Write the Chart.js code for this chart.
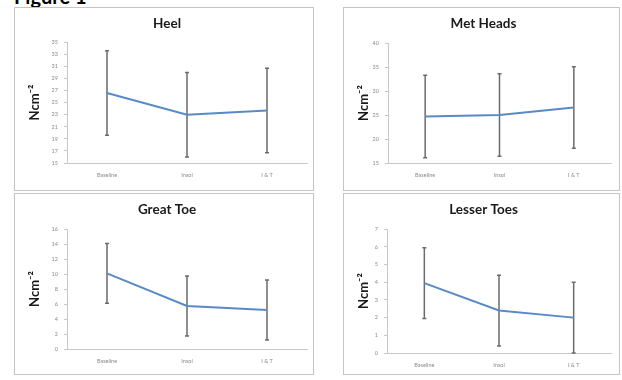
<!DOCTYPE html>
<html>
<head>
<meta charset="utf-8">
<script src="https://cdn.jsdelivr.net/npm/chart.js@4.4.0/dist/chart.umd.min.js"></script>
<style>
  body { margin: 0; background: #fff; width: 622px; height: 380px; overflow: hidden; position: relative; }
  .fig { position: absolute; left: 14px; top: -14px; font: bold 20px/20px Lato, sans-serif; color: #000; }
  .panel { position: absolute; border: 1px solid #c4c4c4; }
  .panel canvas { position: absolute; left: 0; top: 0; }
</style>
</head>
<body>
<div class="fig">Figure 1</div>
<div class="panel" style="left:14px;top:7px;width:298px;height:182px"><canvas id="heel" width="298" height="182"></canvas></div>
<div class="panel" style="left:343px;top:7px;width:275px;height:182px"><canvas id="met" width="275" height="182"></canvas></div>
<div class="panel" style="left:14px;top:193px;width:298px;height:180px"><canvas id="great" width="298" height="180"></canvas></div>
<div class="panel" style="left:343px;top:193px;width:275px;height:180px"><canvas id="lesser" width="275" height="180"></canvas></div>
<script>
const categories = ["Baseline", "Insol", "I & T"];

const heelMean = [26.6, 23.0, 23.7];
const heelSd = [7.0, 7.0, 7.0];

const metMean = [24.7, 25.0, 26.6];
const metSd = [8.6, 8.6, 8.5];

const greatMean = [10.1, 5.75, 5.2];
const greatSd = [4.0, 4.0, 4.0];

const lesserMean = [3.95, 2.4, 2.0];
const lesserSd = [2.0, 2.0, 2.0];

const yLabel = "Ncm\u207B\u00B2";

// error bars drawn under the line, using the chart's own scales
const errorBars = {
  id: "errorBars",
  beforeDatasetsDraw(chart, args, opts) {
    const ctx = chart.ctx;
    const xs = chart.scales.x;
    const ys = chart.scales.y;
    const ds = chart.data.datasets[0];
    ctx.save();
    ctx.strokeStyle = "#6b6b6b";
    ctx.lineWidth = 1.5;
    ds.data.forEach((v, i) => {
      const x = xs.getPixelForValue(i);
      const top = ys.getPixelForValue(v + opts.sd[i]);
      const bot = ys.getPixelForValue(v - opts.sd[i]);
      ctx.beginPath();
      ctx.moveTo(x, top);
      ctx.lineTo(x, bot);
      ctx.moveTo(x - 2, top);
      ctx.lineTo(x + 2, top);
      ctx.moveTo(x - 2, bot);
      ctx.lineTo(x + 2, bot);
      ctx.stroke();
    });
    ctx.restore();
  }
};

function drawChart(id, title, means, sd, min, max, step, yWidth, xHeight, rightPad, titleGap) {
  const ctx = document.getElementById(id).getContext("2d");
  return new Chart(ctx, {
    type: "line",
    data: {
      labels: categories,
      datasets: [
        {
          data: means,
          borderColor: "#5a8ac6",
          borderWidth: 2,
          pointRadius: 0,
          tension: 0,
          fill: false,
        },
      ],
    },
    options: {
      responsive: false,
      animation: false,
      devicePixelRatio: 1,
      layout: { padding: { left: 12, right: rightPad, top: 0, bottom: 0 } },
      plugins: {
        legend: { display: false },
        tooltip: { enabled: false },
        title: {
          display: true,
          text: title,
          color: "#1a1a1a",
          font: { family: "Lato", size: 13.5, weight: "bold" },
          padding: { top: 8, bottom: titleGap },
        },
        errorBars: { sd },
      },
      scales: {
        x: {
          offset: true,
          grid: { display: false, drawTicks: false, tickLength: 0 },
          border: { display: true, color: "#c8c8c8", width: 1 },
          ticks: { color: "#8a8a8a", font: { family: "Lato", size: 5.5 }, padding: 9, maxRotation: 0 },
          afterFit: (s) => { s.height = xHeight; },
        },
        y: {
          min, max,
          ticks: { stepSize: step, color: "#8a8a8a", font: { family: "Lato", size: 5.5 }, padding: 6 },
          grid: { drawOnChartArea: false, tickLength: 3, color: "#c8c8c8" },
          border: { display: true, color: "#c8c8c8", width: 1 },
          title: {
            display: true,
            text: yLabel,
            color: "#1a1a1a",
            font: { family: "Lato", size: 13, weight: "bold" },
            padding: 0,
          },
          afterFit: (s) => { s.width = yWidth; },
        },
      },
    },
    plugins: [errorBars],
  });
}

drawChart("heel", "Heel", heelMean, heelSd, 15, 35, 2, 40, 27, 6, 10);
drawChart("met", "Met Heads", metMean, metSd, 15, 40, 5, 32, 27, 8, 11);
drawChart("great", "Great Toe", greatMean, greatSd, 0, 16, 2, 40, 25, 6, 11);
drawChart("lesser", "Lesser Toes", lesserMean, lesserSd, 0, 7, 1, 31, 21, 8, 11);
</script>
</body>
</html>
